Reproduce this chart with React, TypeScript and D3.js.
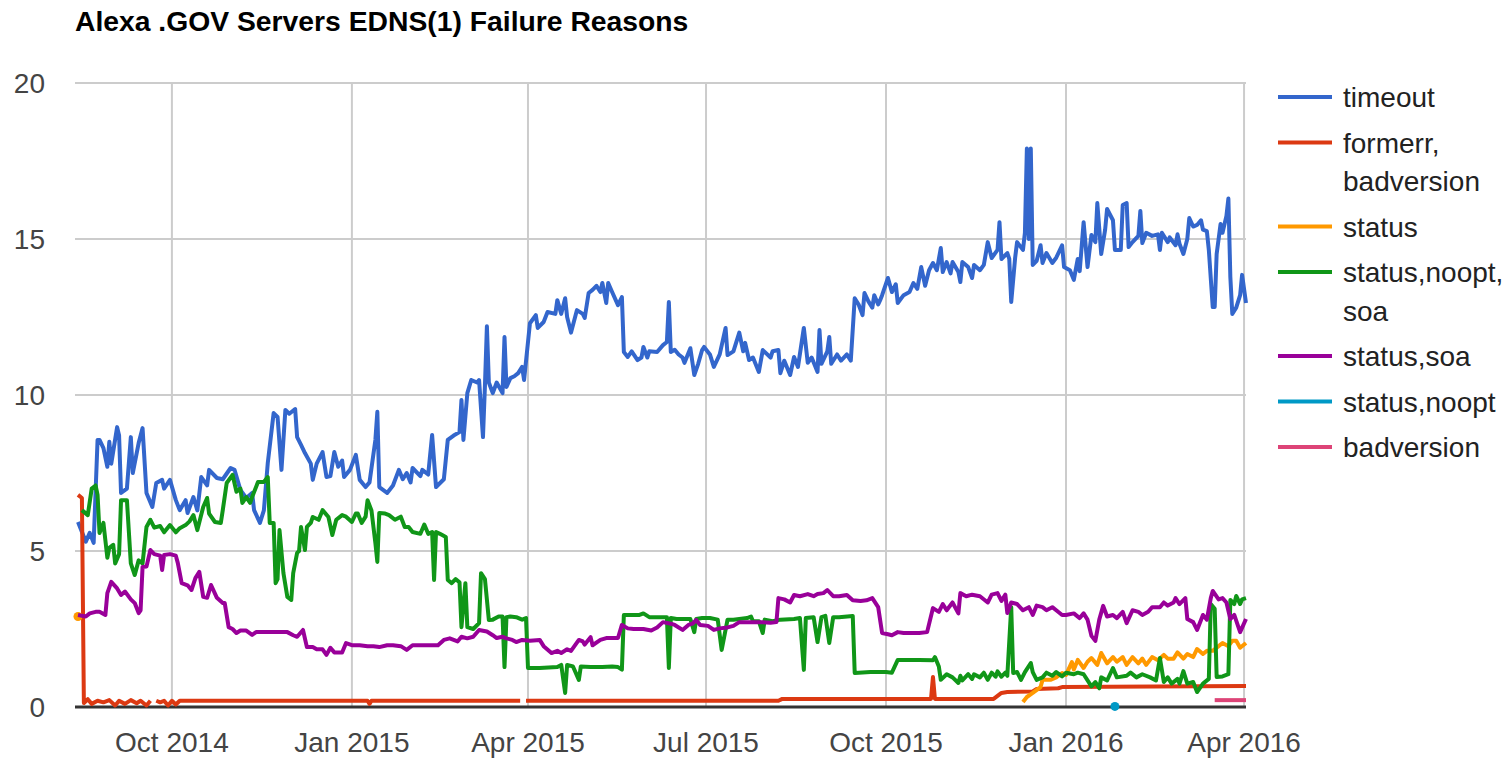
import React, { useEffect } from "react";
import * as d3 from "d3";

// Day offsets are counted from this date (1 Oct 2014)
const BASE_DATE = new Date(2014, 9, 1);

const TITLE = "Alexa .GOV Servers EDNS(1) Failure Reasons";
const yTicks = [0, 5, 10, 15, 20];

type Pt = [number, number | null];

const timeoutData: Pt[] = [
  [-48,5.93],[-44,5.3],[-42,5.58],[-40,5.26],[-38,8.56],[-37,8.56],[-35,8.3],[-33,7.7],[-32,8.5],[-31,7.8],[-28,8.97],[-27,8.7],[-26,6.86],[-23,7.0],[-21,8.65],[-20,7.5],[-17,8.46],[-15,8.94],[-13,6.86],[-10,6.41],[-8,7.18],[-5,7.28],[-4,7.0],[-1,7.28],[2,6.63],[4,6.31],[7,6.63],[8,6.22],[11,6.73],[13,6.3],[15,7.37],[18,7.1],[19,7.6],[23,7.34],[26,7.3],[30,7.66],[32,7.6],[35,6.96],[38,6.7],[41,6.86],[42,6.31],[45,5.9],[47,6.3],[49,7.82],[52,9.42],[54,9.3],[56,7.6],[58,9.52],[60,9.4],[63,9.55],[64,8.65],[66,8.4],[68,8.14],[71,7.8],[72,7.28],[74,7.8],[77,8.17],[79,7.37],[81,7.4],[83,8.17],[85,7.7],[87,7.9],[88,7.37],[91,7.6],[94,8.08],[96,7.28],[99,7.05],[101,7.2],[104,8.56],[105,9.46],[106,7.05],[110,6.86],[113,7.1],[116,7.6],[118,7.3],[120,7.5],[122,7.2],[123,7.66],[127,7.4],[128,7.6],[131,7.45],[133,8.72],[135,7.05],[139,7.3],[141,8.56],[144,8.7],[147,8.81],[148,9.84],[149,8.56],[151,10.06],[153,10.48],[156,10.4],[157,10.48],[159,8.65],[160,10.3],[161,12.2],[162,10.4],[164,10.06],[166,10.4],[169,10.06],[170,11.86],[171,10.26],[173,10.54],[175,10.6],[177,10.7],[179,10.9],[180,10.48],[183,12.3],[186,12.56],[187,12.15],[190,12.34],[192,12.66],[196,12.6],[197,13.04],[199,12.6],[201,13.1],[202,12.5],[204,12.0],[207,12.72],[210,12.6],[211,12.47],[213,13.27],[215,13.37],[217,13.5],[219,13.3],[220,13.59],[222,12.95],[223,13.59],[225,13.3],[228,12.88],[230,13.14],[231,11.38],[233,11.22],[235,11.4],[238,11.12],[240,11.2],[241,11.54],[243,11.2],[244,11.4],[248,11.38],[251,11.6],[253,11.7],[254,12.98],[255,11.38],[257,11.45],[259,11.3],[261,11.2],[262,11.03],[265,11.5],[267,10.64],[269,11.0],[271,11.44],[272,11.54],[275,11.3],[277,10.9],[280,11.3],[283,12.15],[284,11.28],[287,11.4],[290,12.0],[292,11.4],[293,11.67],[295,11.12],[297,11.2],[300,10.74],[302,11.44],[306,11.2],[307,11.4],[310,11.44],[311,10.7],[313,11.1],[316,10.64],[318,11.22],[320,10.9],[323,12.15],[325,11.03],[327,11.2],[330,10.74],[331,12.08],[332,11.0],[335,11.4],[336,11.86],[337,11.0],[340,11.3],[342,11.1],[345,11.3],[347,11.1],[349,13.1],[351,12.9],[353,12.56],[354,13.27],[356,13.0],[358,12.8],[359,13.2],[361,12.9],[362,13.04],[363,13.2],[366,13.75],[368,13.3],[370,13.55],[371,12.95],[374,13.2],[377,13.3],[379,13.59],[381,13.4],[383,14.1],[385,13.5],[387,14.0],[389,14.23],[391,14.0],[393,14.71],[394,13.94],[396,14.26],[398,13.9],[399,14.26],[402,13.94],[403,13.62],[404,14.26],[407,14.1],[409,13.75],[410,14.17],[413,14.0],[415,14.17],[417,14.9],[419,14.39],[422,14.65],[423,15.54],[424,14.36],[427,14.55],[428,14.36],[429,12.98],[431,14.4],[432,14.9],[435,14.65],[436,15.2],[437,17.9],[438,15.0],[439,17.9],[440,14.17],[442,14.3],[444,14.8],[445,14.23],[447,14.55],[450,14.23],[452,14.4],[455,14.8],[456,14.1],[459,14.0],[461,13.69],[463,14.36],[464,13.97],[466,15.54],[468,14.1],[470,15.13],[472,14.9],[473,16.15],[475,14.52],[477,15.3],[478,15.96],[481,15.6],[482,14.65],[485,14.65],[486,16.09],[488,16.15],[489,14.74],[491,14.9],[494,15.1],[495,15.9],[496,14.87],[498,15.2],[501,15.1],[504,15.15],[505,14.65],[506,15.2],[509,14.9],[510,15.05],[513,14.8],[514,15.15],[515,14.85],[517,14.52],[519,15.0],[520,15.67],[522,15.4],[524,15.45],[526,15.6],[527,15.3],[529,15.25],[530,14.65],[532,12.82],[533,12.82],[534,14.52],[536,15.48],[537,15.2],[539,15.74],[540,16.3],[541,13.78],[542,12.6],[544,12.8],[546,13.2],[547,13.85],[549,12.95]
];

const formerrData: Pt[] = [
  [-48,6.8],[-46,6.7],[-45,0.13],[-43,0.25],[-41,0.1],[-38,0.2],[-35,0.15],[-32,0.22],[-29,0.05],[-27,0.2],[-24,0.1],[-21,0.22],[-18,0.12],[-16,0.2],[-13,0.05],[-11,0.2],[-10,null],[-8,0.2],[-6,0.15],[-4,0.2],[-2,0.05],[0,0.2],[2,0.08],[4,0.2],[10,0.2],[60,0.2],[100,0.2],[101,0.1],[102,0.2],[160,0.2],[178,0.2],[180,null],[181,0.2],[310,0.2],[312,0.26],[388,0.26],[389,0.96],[390,0.26],[420,0.26],[424,0.45],[427,0.48],[440,0.5],[442,0.58],[453,0.6],[455,0.64],[549,0.67]
];

const statusData: Pt[] = [
  [-48,2.9],[-47,null],
  [435,0.16],[437,0.32],[440,0.45],[444,0.64],[445,0.87],[449,0.87],[452,0.95],[455,1.09],[457,1.03],[460,1.44],[461,1.2],[463,1.51],[466,1.25],[468,1.45],[470,1.57],[473,1.35],[475,1.73],[478,1.4],[481,1.6],[483,1.45],[486,1.6],[488,1.35],[491,1.6],[494,1.4],[496,1.55],[498,1.35],[501,1.6],[504,1.5],[507,1.67],[509,1.55],[512,1.55],[514,1.75],[517,1.55],[519,1.7],[522,1.6],[524,1.86],[527,1.7],[529,1.8],[532,1.8],[535,1.95],[537,2.05],[540,1.95],[542,2.12],[544,2.12],[546,1.9],[549,2.05]
];

const noOptSoaData: Pt[] = [
  [-46,6.31],[-43,6.15],[-41,7.0],[-39,7.1],[-38,6.8],[-37,5.58],[-35,5.9],[-33,4.78],[-32,5.1],[-30,5.2],[-29,4.6],[-27,4.9],[-26,6.63],[-23,6.63],[-21,4.6],[-19,4.23],[-17,4.7],[-15,4.6],[-13,5.77],[-11,6.0],[-9,5.75],[-6,5.8],[-4,5.6],[-1,5.83],[2,5.6],[4,5.73],[7,5.83],[9,5.95],[11,6.15],[13,5.67],[16,6.41],[18,6.7],[19,6.2],[22,5.93],[25,5.9],[26,6.31],[28,7.18],[31,7.44],[33,6.9],[35,7.0],[36,6.54],[38,6.73],[40,6.54],[41,6.73],[44,7.21],[47,7.21],[49,7.37],[50,5.9],[52,5.9],[53,3.97],[54,4.1],[55,5.67],[57,4.29],[59,3.53],[61,3.43],[62,4.29],[64,4.94],[65,5.0],[66,5.77],[68,5.03],[69,5.77],[71,5.9],[72,6.09],[75,6.0],[77,6.31],[80,6.09],[82,5.51],[84,6.0],[87,6.15],[89,6.1],[92,5.93],[94,6.2],[95,6.2],[97,5.9],[99,6.1],[100,6.63],[102,6.3],[104,5.26],[105,4.65],[106,6.22],[109,6.2],[111,6.15],[114,6.0],[117,6.1],[119,5.77],[121,5.77],[123,5.61],[127,5.55],[129,5.85],[131,5.55],[133,5.61],[134,4.07],[135,5.61],[137,5.55],[140,5.45],[141,4.07],[143,3.97],[145,4.1],[147,4.0],[148,2.56],[150,3.97],[151,2.56],[154,2.5],[157,2.69],[158,4.29],[160,4.1],[162,2.79],[164,2.8],[167,2.9],[169,2.9],[170,1.28],[171,2.88],[173,2.9],[176,2.88],[179,2.8],[181,2.85],[182,1.25],[186,1.25],[188,1.25],[197,1.28],[199,1.35],[201,0.45],[202,1.35],[205,1.3],[208,0.87],[209,1.3],[214,1.28],[220,1.28],[225,1.3],[228,1.28],[230,1.2],[231,2.95],[234,2.95],[239,2.95],[241,3.0],[244,2.88],[249,2.88],[253,2.88],[254,1.25],[255,2.85],[258,2.82],[265,2.82],[267,2.4],[268,2.82],[271,2.85],[275,2.85],[279,2.8],[281,1.83],[284,2.8],[287,2.8],[294,2.85],[296,2.9],[297,2.75],[300,2.75],[302,2.37],[303,2.8],[307,2.75],[311,2.8],[318,2.82],[321,2.85],[323,1.19],[324,2.85],[328,2.88],[330,2.08],[332,2.88],[334,2.92],[336,2.05],[338,2.88],[341,2.88],[348,2.92],[349,1.09],[357,1.12],[365,1.12],[368,1.1],[371,1.51],[382,1.51],[389,1.5],[390,1.6],[392,1.3],[393,0.87],[396,1.05],[399,0.95],[402,0.77],[403,1.0],[404,0.85],[407,1.05],[409,0.9],[410,1.05],[413,0.95],[415,1.1],[417,0.87],[419,1.1],[421,0.97],[422,1.14],[424,0.97],[426,1.1],[427,1.0],[429,3.2],[430,1.09],[432,1.12],[434,0.87],[436,1.12],[439,1.41],[440,1.12],[442,0.87],[445,0.95],[447,1.1],[450,1.0],[452,1.12],[455,0.98],[457,1.1],[461,1.05],[463,1.1],[466,1.05],[470,0.66],[472,0.8],[474,0.6],[475,0.95],[478,0.85],[481,1.25],[483,0.95],[488,1.0],[490,1.1],[493,0.95],[496,1.05],[500,0.95],[503,0.85],[505,1.57],[507,0.8],[509,0.95],[511,0.75],[514,0.9],[515,0.75],[517,1.15],[519,0.75],[522,0.8],[524,0.48],[527,0.75],[530,0.9],[531,3.3],[533,3.15],[534,0.96],[537,0.98],[540,1.05],[541,3.43],[543,3.3],[544,3.56],[546,3.3],[547,3.45],[549,3.49]
];

const soaData: Pt[] = [
  [-48,2.95],[-44,2.9],[-42,3.0],[-39,3.05],[-37,3.05],[-34,2.95],[-33,3.65],[-31,4.01],[-28,3.8],[-26,3.59],[-24,3.7],[-21,3.45],[-19,3.33],[-17,3.01],[-16,3.1],[-15,4.49],[-13,4.5],[-11,5.03],[-9,4.9],[-6,4.85],[-5,4.39],[-4,4.87],[-1,4.9],[2,4.85],[3,4.62],[5,3.97],[8,3.9],[10,3.75],[12,4.13],[14,4.33],[16,3.53],[18,3.5],[20,3.91],[23,3.5],[26,3.33],[27,3.33],[29,2.56],[31,2.5],[33,2.37],[35,2.45],[38,2.45],[41,2.31],[43,2.4],[50,2.4],[55,2.4],[59,2.4],[62,2.3],[64,2.25],[67,2.47],[69,1.92],[72,1.92],[74,1.85],[77,1.85],[79,1.67],[81,1.9],[83,1.75],[87,1.75],[89,2.05],[92,1.98],[96,1.98],[100,1.95],[103,1.95],[106,1.92],[110,1.98],[113,1.98],[117,1.95],[120,1.83],[123,1.98],[127,1.98],[132,1.98],[136,1.98],[139,2.15],[142,2.2],[146,2.1],[148,2.25],[151,2.2],[154,2.25],[157,2.47],[161,2.42],[164,2.3],[166,2.21],[169,2.25],[171,2.2],[174,2.15],[176,2.08],[179,2.15],[183,2.12],[188,2.15],[190,1.95],[194,1.73],[197,1.8],[199,1.73],[202,1.85],[204,1.8],[208,2.15],[210,2.1],[211,2.0],[214,2.24],[215,1.98],[219,2.15],[222,2.21],[225,2.21],[228,2.21],[230,2.63],[233,2.52],[236,2.5],[241,2.5],[245,2.45],[248,2.55],[251,2.72],[255,2.67],[257,2.63],[261,2.47],[264,2.63],[266,2.67],[268,2.79],[270,2.63],[274,2.6],[277,2.47],[280,2.52],[284,2.55],[287,2.6],[290,2.72],[296,2.72],[301,2.72],[306,2.7],[309,2.72],[310,3.49],[313,3.45],[316,3.35],[318,3.59],[321,3.55],[325,3.62],[328,3.55],[330,3.62],[333,3.65],[335,3.75],[338,3.55],[341,3.55],[345,3.59],[348,3.42],[352,3.4],[355,3.42],[358,3.49],[361,3.2],[363,2.37],[366,2.33],[368,2.3],[371,2.4],[374,2.37],[379,2.37],[382,2.37],[386,2.4],[389,3.17],[392,3.05],[394,3.3],[396,3.1],[399,3.35],[402,3.0],[403,3.65],[406,3.55],[409,3.6],[413,3.55],[417,3.35],[419,3.6],[422,3.65],[424,3.4],[426,3.6],[427,3.01],[429,3.35],[432,3.3],[435,3.1],[438,3.2],[440,2.95],[442,3.25],[445,3.2],[447,3.1],[450,3.2],[452,3.1],[455,2.95],[457,2.95],[461,3.0],[464,2.85],[466,3.0],[468,2.8],[470,2.28],[472,2.12],[474,2.8],[476,3.24],[478,2.9],[481,2.95],[483,2.85],[486,3.05],[488,2.69],[491,3.1],[494,3.05],[496,2.95],[499,3.05],[501,3.2],[505,3.2],[507,3.35],[509,3.25],[512,3.35],[513,3.49],[515,3.3],[518,3.49],[519,2.82],[522,2.72],[524,2.47],[527,2.95],[529,2.8],[531,3.49],[532,3.72],[535,3.45],[537,3.49],[539,3.35],[541,2.82],[543,2.95],[546,2.4],[549,2.82]
];

const noOptData: Pt[] = [[482, 0.02]];

const badversionData: Pt[] = [[533, 0.22], [549, 0.22]];

const seriesNames = ["timeout", "formerr,badversion", "status", "status,noopt,soa", "status,soa", "status,noopt", "badversion"];
const legendLabels: string[][] = [["timeout"], ["formerr,", "badversion"], ["status"], ["status,noopt,", "soa"], ["status,soa"], ["status,noopt"], ["badversion"]];
const seriesColors = ["#3366cc", "#dc3912", "#ff9900", "#109618", "#990099", "#0099c6", "#dd4477"];
const seriesData = [timeoutData, formerrData, statusData, noOptSoaData, soaData, noOptData, badversionData];

const toDate = (d: number) => d3.timeDay.offset(BASE_DATE, d);

export default function App() {
  useEffect(() => {
    document.body.style.margin = "0";
  }, []);

  const W = 1508, H = 759;
  const left = 78, right = 1246, top = 83, bottom = 707;
  const allDays = seriesData.flat().map((p) => p[0]);
  const x = d3.scaleTime().domain([toDate(d3.min(allDays)!), toDate(d3.max(allDays)!)]).range([left, right]);
  const y = d3.scaleLinear().domain([0, 20]).range([bottom, top]);
  const xTicks = x.ticks(d3.timeMonth.every(3)!).filter((t) => x(t) > left + 20);
  const fmt = d3.timeFormat("%b %Y");
  const font = "Arial, 'Liberation Sans', sans-serif";

  const line = d3
    .line<Pt>()
    .defined((p) => p[1] !== null)
    .x((p) => x(toDate(p[0])))
    .y((p) => y(p[1] as number));

  const isolated = (arr: Pt[]) =>
    arr.filter((p, i) => p[1] !== null && (i === 0 || arr[i - 1][1] === null) && (i === arr.length - 1 || arr[i + 1][1] === null));

  let ly = 97;
  const legendPos: number[] = [];
  legendLabels.forEach((lab) => {
    legendPos.push(ly);
    ly += 45.5 + 38.5 * (lab.length - 1);
  });

  return (
    <svg width={W} height={H} style={{ display: "block", background: "#fff" }} fontFamily={font}>
      <text x={75} y={31} fontSize={28.3} fontWeight="bold" fill="#000">{TITLE}</text>
      {yTicks.map((t) => (
        <g key={"y" + t}>
          {t > 0 && <line x1={75} x2={right} y1={y(t)} y2={y(t)} stroke="#cccccc" strokeWidth={2} />}
          <text x={45} y={y(t)} dy="0.36em" textAnchor="end" fontSize={28} fill="#444">{t}</text>
        </g>
      ))}
      {xTicks.map((t, i) => (
        <g key={"x" + i}>
          <line x1={x(t)} x2={x(t)} y1={top} y2={bottom} stroke="#cccccc" strokeWidth={2} />
          <text x={x(t)} y={752} textAnchor="middle" fontSize={28} fill="#444">{fmt(t)}</text>
        </g>
      ))}
      <line x1={75} x2={right} y1={bottom} y2={bottom} stroke="#333333" strokeWidth={3} />
      {seriesData.map((arr, i) => (
        <g key={"s" + i}>
          <path d={line(arr) || ""} fill="none" stroke={seriesColors[i]} strokeWidth={4} strokeLinejoin="round" strokeLinecap="butt" />
          {isolated(arr).map((p, j) => (
            <circle key={j} cx={x(toDate(p[0]))} cy={y(p[1] as number)} r={4.5} fill={seriesColors[i]} />
          ))}
        </g>
      ))}
      {legendLabels.map((lab, i) => (
        <g key={"l" + i}>
          <line x1={1278} x2={1332} y1={legendPos[i]} y2={legendPos[i]} stroke={seriesColors[i]} strokeWidth={4} />
          {lab.map((s, k) => (
            <text key={k} x={1343} y={legendPos[i] + 38.5 * k} dy="0.36em" fontSize={28} fill="#222">{s}</text>
          ))}
        </g>
      ))}
    </svg>
  );
}
